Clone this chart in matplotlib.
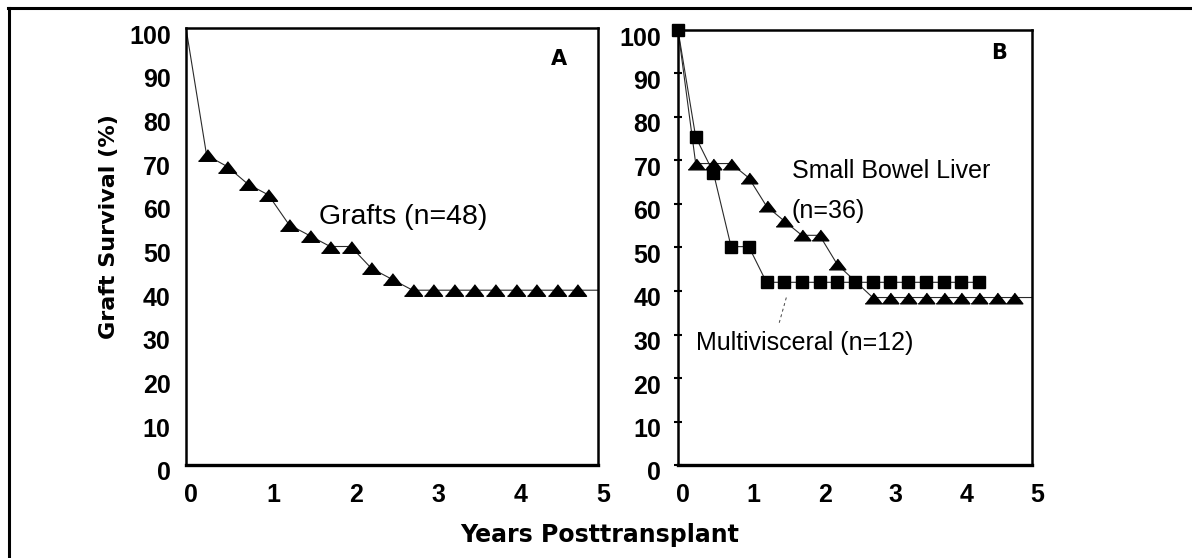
import matplotlib
matplotlib.use("Agg")
import matplotlib.pyplot as plt
import matplotlib.transforms as mtransforms
from matplotlib.lines import Line2D

# ---------------- data ----------------
years_a = [0, 0.25, 0.5, 0.75, 1.0, 1.25, 1.5, 1.75, 2.0, 2.25, 2.5,
           2.75, 3.0, 3.25, 3.5, 3.75, 4.0, 4.25, 4.5, 4.75, 5.0]
grafts = [100, 70.9, 68.3, 64.3, 61.8, 55.0, 52.5, 50.0, 50.0, 45.0, 42.5,
          40, 40, 40, 40, 40, 40, 40, 40, 40, 40]

years_sbl = [0, 0.25, 0.5, 0.75, 1.0, 1.25, 1.5, 1.75, 2.0, 2.25,
             2.75, 3.0, 3.25, 3.5, 3.75, 4.0, 4.25, 4.5, 4.75, 5.0]
sbl = [100, 69.3, 69.3, 69.3, 66.0, 59.5, 56.1, 52.8, 52.8, 46.1,
       38.5, 38.5, 38.5, 38.5, 38.5, 38.5, 38.5, 38.5, 38.5, 38.5]

years_mv = [0, 0.25, 0.5, 0.75, 1.0, 1.25, 1.5, 1.75, 2.0, 2.25, 2.5,
            2.75, 3.0, 3.25, 3.5, 3.75, 4.0, 4.25]
mv = [100, 75.4, 67.2, 50.2, 50.2, 42.0, 42.0, 42.0, 42.0, 42.0, 42.0,
      42.0, 42.0, 42.0, 42.0, 42.0, 42.0, 42.0]

x_ticks = [0, 1, 2, 3, 4, 5]
y_ticks = [0, 10, 20, 30, 40, 50, 60, 70, 80, 90, 100]

W, H = 1192, 558
fig = plt.figure(figsize=(W / 100, H / 100), dpi=100)
fig.patch.set_facecolor("white")

TICKFONT = dict(family="Liberation Sans", weight="bold", size=18)
ANNFONT = dict(family="Liberation Sans", size=18)

tri = [(-1, -0.64), (1, -0.64), (0, 0.64)]


def px_axes(l, r, t, b):
    return fig.add_axes([l / W, 1 - b / H, (r - l) / W, (b - t) / H])


axA = px_axes(186, 598, 28, 465)
axB = px_axes(678, 1032, 30, 465)

for ax in (axA, axB):
    ax.set_xlim(0, 5)
    ax.set_ylim(0, 100)
    ax.set_xticks(x_ticks)
    ax.set_yticks(y_ticks)
    ax.set_xticklabels([str(v) for v in x_ticks], fontdict=TICKFONT)
    ax.set_yticklabels([str(v) for v in y_ticks], fontdict=TICKFONT)
    for sp in ax.spines.values():
        sp.set_linewidth(1.8)
    ax.spines["bottom"].set_linewidth(2.4)
    ax.tick_params(axis="x", length=0, pad=13)
    ax.set_facecolor("white")

axA.tick_params(axis="y", length=0, pad=11)
axB.tick_params(axis="y", length=6, width=1.5, direction="inout", pad=9)

# shift tick labels like the original print (after tick_params)
for ax in (axA, axB):
    off_x = mtransforms.ScaledTranslation(0.05, 0, fig.dpi_scale_trans)
    for lab in ax.get_xticklabels():
        lab.set_transform(lab.get_transform() + off_x)
    off_y = mtransforms.ScaledTranslation(0, -0.06, fig.dpi_scale_trans)
    for lab in ax.get_yticklabels():
        lab.set_transform(lab.get_transform() + off_y)

line_kw = dict(color="#2a2a2a", linewidth=0.8)

# Panel A
axA.plot(years_a, grafts, **line_kw, zorder=2)
axA.plot(years_a[1:-1], grafts[1:-1], linestyle="none", marker=tri,
         markersize=13, color="black", zorder=3, clip_on=False)
axA.text(1.62, 56.7, "Grafts (n=48)", ha="left", va="center",
         family="Liberation Sans", size=20.5)
axA.text(4.53, 93.0, "A", ha="center", va="center", family="DejaVu Sans",
         weight="bold", size=15)

# Panel B
axB.plot(years_mv, mv, **line_kw, zorder=2)
axB.plot(years_sbl, sbl, **line_kw, zorder=2)
axB.plot(years_mv, mv, linestyle="none", marker="s", markersize=8.6,
         color="black", zorder=3, clip_on=False)
axB.plot(years_sbl[1:-1], sbl[1:-1], linestyle="none", marker=tri,
         markersize=12, color="black", zorder=4, clip_on=False)
axB.text(1.61, 67.6, "Small Bowel Liver", ha="left", va="center", **ANNFONT)
axB.text(1.61, 58.4, "(n=36)", ha="left", va="center", **ANNFONT)
axB.text(0.25, 28.1, "Multivisceral (n=12)", ha="left", va="center", **ANNFONT)
axB.plot([1.53, 1.43], [38.5, 32.7], color="#444444", linewidth=0.7,
         linestyle=(0, (3, 3)), zorder=2)
axB.text(4.53, 94.6, "B", ha="center", va="center", family="DejaVu Sans",
         weight="bold", size=15)

# axis titles
fig.text(109 / W, 1 - 227 / H, "Graft Survival (%)", rotation=90,
         ha="center", va="center", family="DejaVu Sans", weight="bold", size=16)
fig.text(600 / W, 1 - 535 / H, "Years Posttransplant", ha="center",
         va="center", family="DejaVu Sans", weight="bold", size=17)

# outer frame (top and left only)
fig.add_artist(Line2D([8 / W, 1], [1 - 8 / H, 1 - 8 / H], color="black",
                      linewidth=2.2, transform=fig.transFigure))
fig.add_artist(Line2D([9 / W, 9 / W], [0, 1 - 8 / H], color="black",
                      linewidth=2.2, transform=fig.transFigure))

fig.savefig("out.png", dpi=100, facecolor="white")
